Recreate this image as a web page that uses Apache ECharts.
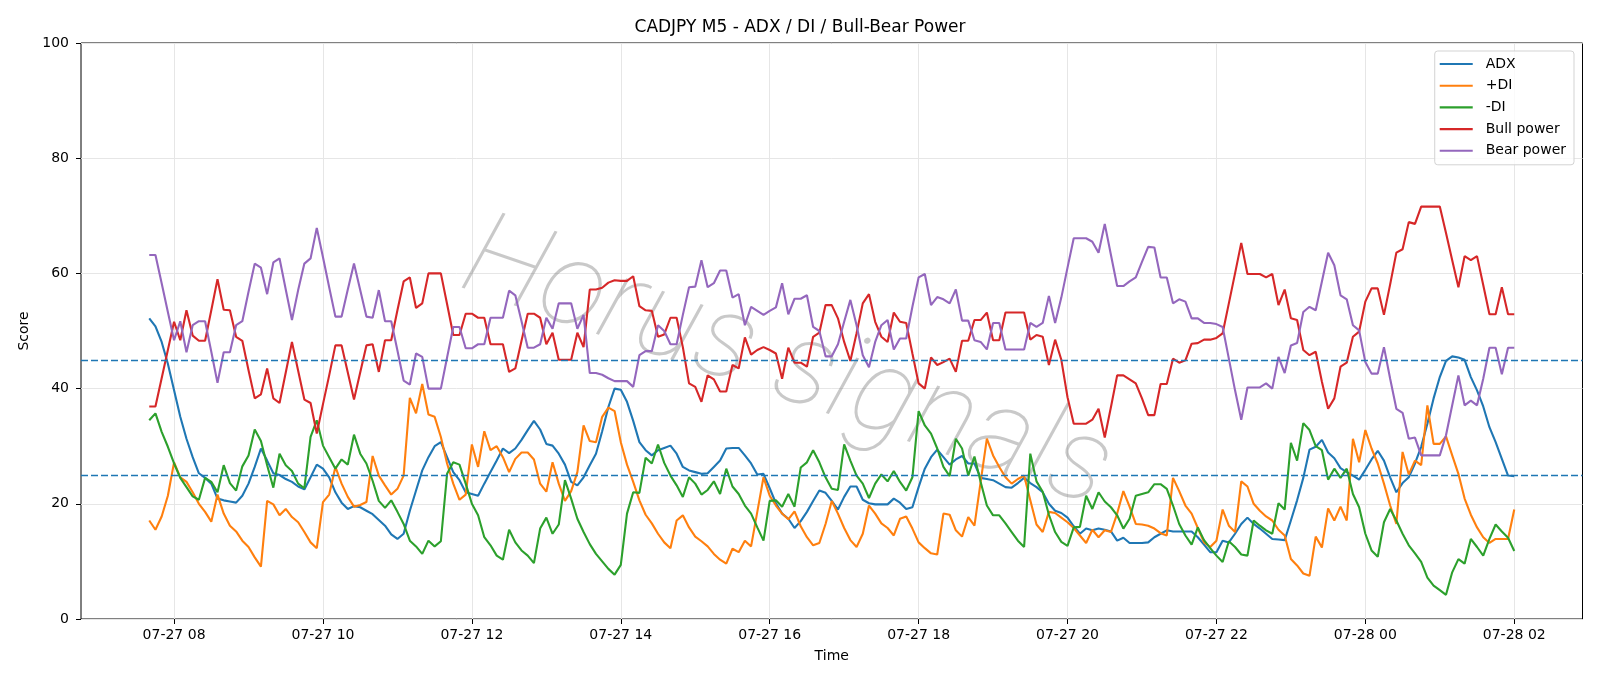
<!DOCTYPE html>
<html>
<head>
<meta charset="utf-8">
<title>CADJPY M5 - ADX / DI / Bull-Bear Power</title>
<script src="https://cdn.jsdelivr.net/npm/echarts@6/dist/echarts.min.js"></script>
<style>
  html, body { margin: 0; padding: 0; background: #fff; }
  #chart { width: 1600px; height: 686px; }
</style>
</head>
<body>
<div id="chart"></div>
<script>
// time grid: M5 bars from 07-27 07:40 to 07-28 02:00, in minutes since 07-27 00:00
const startMinute = 460
const barMinutes = 5

// x ticks
const tickMinutes = [480, 600, 720, 840, 960, 1080, 1200, 1320, 1440, 1560]
const tickLabels = ['07-27 08', '07-27 10', '07-27 12', '07-27 14', '07-27 16',
  '07-27 18', '07-27 20', '07-27 22', '07-28 00', '07-28 02']

const adx = [
  52.2, 50.8, 48.1, 44.3, 39.7, 35.1, 31.3, 28.1, 25.3, 24.5,
  23.5, 20.9, 20.6, 20.4, 20.2, 21.4, 23.5, 26.4, 29.6, 27.5,
  25.3, 25.0, 24.3, 23.8, 23.0, 22.5, 24.6, 26.8, 26.1, 24.6,
  22.0, 20.2, 19.1, 19.6, 19.4, 18.8, 18.2, 17.2, 16.2, 14.7,
  13.9, 14.8, 18.8, 22.3, 25.8, 28.1, 30.0, 30.7, 28.1, 25.5,
  24.1, 22.0, 21.7, 21.4, 23.5, 25.5, 27.5, 29.6, 28.8, 29.6,
  31.1, 32.8, 34.4, 32.9, 30.4, 30.1, 28.7, 26.8, 23.8, 23.2,
  24.6, 26.7, 28.7, 32.6, 36.8, 40.0, 39.8, 37.7, 34.4, 30.7,
  29.3, 28.4, 29.3, 29.7, 30.1, 28.7, 26.4, 25.8, 25.5, 25.2,
  25.3, 26.4, 27.5, 29.6, 29.7, 29.7, 28.4, 27.0, 25.1, 25.2,
  22.7, 20.1, 18.3, 17.4, 15.8, 17.0, 18.6, 20.5, 22.3, 21.9,
  20.5, 19.0, 21.2, 23.0, 23.0, 20.7, 20.1, 19.9, 19.9, 19.9,
  20.9, 20.2, 19.1, 19.4, 22.9, 26.1, 28.1, 29.4, 28.1, 26.8,
  27.7, 28.3, 27.0, 27.0, 24.5, 24.3, 24.1, 23.5, 22.9, 22.8,
  23.6, 24.5, 23.6, 22.9, 22.0, 20.0, 18.8, 18.4, 17.6, 16.1,
  14.8, 15.7, 15.4, 15.7, 15.5, 15.2, 13.6, 14.1, 13.2, 13.2,
  13.2, 13.3, 14.2, 14.8, 15.4, 15.2, 15.2, 15.2, 15.2, 14.2,
  12.9, 11.6, 11.6, 13.6, 13.3, 14.8, 16.5, 17.6, 16.5, 15.7,
  14.8, 13.9, 13.8, 13.7, 17.1, 20.6, 24.5, 29.4, 29.9, 31.1,
  28.9, 27.9, 26.2, 25.5, 24.9, 24.2, 25.9, 27.7, 29.2, 27.5,
  24.6, 22.0, 23.6, 24.6, 27.0, 29.9, 33.9, 38.3, 42.0, 44.8,
  45.6, 45.4, 45.0, 42.0, 39.7, 36.9, 33.3, 30.7, 27.8, 24.9,
  24.8
]

const plusDi = [
  17.1, 15.5, 17.8, 21.4, 27.2, 24.6, 23.8, 22.0, 20.0, 18.6,
  16.9, 21.6, 18.3, 16.2, 15.2, 13.6, 12.5, 10.7, 9.1, 20.5,
  19.9, 18.0, 19.1, 17.7, 16.8, 15.1, 13.3, 12.3, 20.3, 21.6,
  26.4, 23.5, 21.2, 19.5, 19.8, 20.3, 28.3, 24.9, 23.2, 21.6,
  22.6, 24.9, 38.4, 35.7, 40.8, 35.5, 35.1, 31.6, 27.0, 23.5,
  20.7, 21.6, 30.3, 26.4, 32.6, 29.3, 30.0, 28.1, 25.5, 27.8,
  28.9, 28.9, 27.7, 23.5, 22.1, 27.2, 23.5, 20.5, 22.2, 25.5,
  33.6, 30.9, 30.7, 35.1, 36.7, 36.1, 30.7, 26.8, 23.8, 20.6,
  18.1, 16.6, 14.8, 13.3, 12.3, 17.1, 18.0, 15.9, 14.3, 13.5,
  12.6, 11.3, 10.3, 9.6, 12.2, 11.6, 13.6, 12.6, 18.6, 24.6,
  21.4, 19.7, 18.3, 17.3, 18.7, 16.1, 14.2, 12.8, 13.2, 16.5,
  20.5, 18.3, 15.8, 13.7, 12.5, 14.8, 19.7, 18.3, 16.6, 15.8,
  14.5, 17.4, 17.8, 15.7, 13.3, 12.3, 11.4, 11.2, 18.3, 18.1,
  15.4, 14.3, 17.7, 16.2, 23.8, 31.3, 28.4, 26.4, 24.6, 23.5,
  24.3, 24.9, 20.6, 16.4, 15.1, 18.6, 18.4, 17.6, 16.8, 15.8,
  14.5, 13.2, 15.5, 14.2, 15.4, 15.1, 18.3, 22.2, 19.5, 16.5,
  16.4, 16.2, 15.7, 14.9, 14.5, 24.5, 22.2, 19.7, 18.3, 15.8,
  13.3, 12.5, 13.6, 19.0, 16.2, 15.1, 23.9, 23.0, 20.0, 18.8,
  17.8, 17.1, 15.5, 14.5, 10.4, 9.3, 7.9, 7.5, 14.3, 12.4,
  19.2, 17.1, 19.5, 17.1, 31.3, 27.2, 32.8, 29.6, 27.0, 23.5,
  19.7, 16.5, 29.0, 25.1, 27.5, 26.7, 37.1, 30.4, 30.4, 31.7,
  28.4, 25.2, 20.9, 18.1, 15.9, 14.2, 13.2, 13.9, 13.9, 13.9,
  19.0
]

const minusDi = [
  34.5, 35.7, 32.5, 29.9, 27.0, 24.5, 22.9, 21.3, 20.7, 24.5,
  23.8, 22.0, 26.7, 23.6, 22.3, 26.5, 28.4, 32.9, 30.9, 26.7,
  22.8, 28.7, 26.7, 25.7, 23.5, 22.7, 31.6, 34.5, 30.1, 28.1,
  26.1, 27.7, 26.8, 32.0, 28.7, 27.0, 24.0, 20.5, 19.3, 20.6,
  18.6, 16.5, 13.6, 12.6, 11.3, 13.6, 12.6, 13.5, 25.2, 27.2,
  26.8, 23.5, 20.0, 18.0, 14.2, 12.8, 11.0, 10.3, 15.5, 13.3,
  11.9, 11.0, 9.7, 15.7, 17.6, 14.8, 16.4, 24.1, 20.9, 17.4,
  15.1, 13.0, 11.3, 10.0, 8.7, 7.7, 9.4, 18.3, 22.0, 21.9,
  28.0, 27.0, 30.3, 27.1, 24.9, 23.2, 21.2, 24.6, 23.5, 21.6,
  22.4, 23.9, 21.7, 26.1, 23.0, 21.7, 19.7, 18.3, 15.9, 13.6,
  20.5, 20.6, 19.5, 21.7, 19.5, 26.3, 27.2, 29.3, 27.2, 24.6,
  22.6, 22.4, 30.3, 27.5, 24.9, 23.5, 21.0, 23.5, 25.1, 23.9,
  25.7, 23.8, 22.3, 24.6, 36.1, 33.6, 32.2, 29.6, 26.4, 24.8,
  31.3, 29.6, 24.9, 28.2, 23.8, 19.7, 18.0, 18.0, 16.6, 15.1,
  13.6, 12.5, 28.7, 23.9, 22.1, 18.1, 15.1, 13.4, 12.7, 15.9,
  16.0, 21.4, 19.1, 22.0, 20.4, 19.4, 18.0, 15.7, 17.4, 21.4,
  21.7, 22.0, 23.4, 23.4, 22.6, 19.7, 16.5, 14.5, 12.9, 15.9,
  13.7, 12.3, 11.0, 9.9, 13.5, 12.5, 11.2, 11.0, 17.1, 16.2,
  15.4, 14.8, 20.1, 19.0, 30.6, 27.5, 34.0, 32.8, 30.0, 29.3,
  24.2, 26.1, 24.5, 26.1, 21.7, 19.4, 14.8, 11.9, 10.8, 16.8,
  19.1, 17.1, 14.8, 12.8, 11.4, 9.9, 7.2, 5.8, 5.0, 4.2,
  8.1, 10.4, 9.6, 13.9, 12.5, 11.0, 13.9, 16.4, 15.2, 14.1,
  11.8
]

const bullPower = [
  36.9, 36.9, 41.8, 46.7, 51.6, 48.4, 53.6, 49.2, 48.3, 48.3,
  53.6, 59.0, 53.7, 53.6, 49.0, 48.3, 43.2, 38.3, 39.0, 43.5,
  38.3, 37.5, 42.8, 48.1, 43.1, 38.1, 37.5, 32.2, 37.3, 42.3,
  47.5, 47.5, 42.8, 38.1, 42.8, 47.5, 47.7, 42.9, 48.4, 48.4,
  53.6, 58.6, 59.3, 54.0, 54.8, 60.0, 60.0, 60.0, 54.7, 49.3,
  49.3, 53.0, 53.0, 52.3, 52.3, 47.7, 47.7, 47.7, 42.9, 43.5,
  48.3, 53.0, 53.0, 52.3, 47.7, 49.7, 45.0, 45.0, 45.0, 49.7,
  47.2, 57.2, 57.2, 57.5, 58.4, 58.8, 58.7, 58.7, 59.5, 54.3,
  53.6, 53.5, 49.0, 49.4, 52.3, 52.3, 47.2, 40.9, 40.3, 37.7,
  42.3, 41.6, 39.5, 39.5, 44.1, 43.5, 48.9, 45.9, 46.7, 47.2,
  46.7, 46.1, 41.7, 47.1, 44.5, 44.5, 43.8, 49.0, 49.7, 54.5,
  54.5, 52.2, 48.1, 44.8, 49.6, 54.8, 56.4, 51.6, 49.0, 48.1,
  53.2, 51.6, 51.4, 46.1, 40.9, 40.0, 45.4, 44.1, 44.6, 45.2,
  42.9, 48.3, 48.3, 51.9, 51.9, 53.2, 48.4, 48.4, 53.2, 53.2,
  53.2, 53.2, 48.5, 49.3, 49.0, 44.1, 48.5, 45.0, 38.5, 33.9,
  33.9, 33.9, 34.6, 36.5, 31.5, 36.8, 42.3, 42.3, 41.6, 40.9,
  38.3, 35.4, 35.4, 40.8, 40.8, 45.2, 44.5, 44.9, 47.8, 47.9,
  48.5, 48.5, 48.8, 49.6, 54.8, 60.0, 65.3, 59.9, 59.9, 59.9,
  59.3, 59.9, 54.5, 57.2, 52.2, 51.9, 46.7, 45.8, 46.4, 41.2,
  36.5, 38.3, 43.8, 44.5, 49.0, 49.9, 55.1, 57.4, 57.4, 52.8,
  58.1, 63.6, 64.2, 68.9, 68.6, 71.6, 71.6, 71.6, 71.6, 67.0,
  62.3, 57.6, 63.0, 62.3, 63.0, 58.0, 52.9, 52.9, 57.6, 52.9,
  52.9
]

const bearPower = [
  63.2, 63.2, 58.3, 53.3, 48.4, 51.7, 46.3, 51.0, 51.7, 51.7,
  46.4, 41.0, 46.3, 46.3, 51.0, 51.7, 56.8, 61.7, 61.0, 56.4,
  61.9, 62.6, 57.2, 51.9, 57.1, 61.7, 62.6, 67.9, 62.8, 57.6,
  52.5, 52.5, 57.2, 61.7, 57.1, 52.5, 52.3, 57.1, 51.7, 51.7,
  46.6, 41.4, 40.7, 46.1, 45.5, 40.0, 40.0, 40.0, 45.4, 50.7,
  50.7, 47.0, 47.0, 47.7, 47.7, 52.3, 52.3, 52.3, 57.0, 56.2,
  51.7, 47.1, 47.1, 47.7, 52.3, 50.4, 54.8, 54.8, 54.8, 50.4,
  52.8, 42.7, 42.7, 42.4, 41.8, 41.3, 41.3, 41.3, 40.3, 45.8,
  46.5, 46.5, 51.0, 50.0, 47.7, 47.7, 52.8, 57.6, 57.7, 62.3,
  57.6, 58.3, 60.5, 60.5, 55.8, 56.4, 51.0, 54.2, 53.5, 52.8,
  53.5, 54.1, 58.3, 52.9, 55.6, 55.6, 56.2, 50.7, 50.0, 45.6,
  45.6, 47.7, 51.6, 55.4, 51.0, 45.8, 43.7, 48.1, 51.0, 51.9,
  46.8, 48.7, 48.7, 54.2, 59.3, 59.9, 54.5, 55.9, 55.5, 54.8,
  57.2, 51.8, 51.8, 48.4, 48.1, 46.8, 51.4, 51.4, 46.8, 46.8,
  46.8, 46.8, 51.4, 50.7, 51.4, 56.1, 51.4, 55.8, 61.0, 66.1,
  66.1, 66.1, 65.5, 63.6, 68.6, 63.2, 57.8, 57.8, 58.6, 59.3,
  62.0, 64.6, 64.5, 59.3, 59.3, 54.8, 55.5, 55.1, 52.2, 52.2,
  51.4, 51.4, 51.2, 50.7, 45.2, 39.7, 34.6, 40.2, 40.2, 40.2,
  40.9, 40.0, 45.5, 42.7, 47.5, 47.9, 53.3, 54.2, 53.6, 58.6,
  63.6, 61.4, 56.2, 55.5, 51.0, 50.1, 44.6, 42.6, 42.6, 47.2,
  41.7, 36.5, 35.8, 31.3, 31.5, 28.4, 28.4, 28.4, 28.4, 31.9,
  37.1, 42.3, 37.1, 37.9, 37.1, 41.7, 47.1, 47.1, 42.5, 47.1,
  47.1
]

// reference levels
const levels = [25, 45]

const FONT = 'DejaVu Sans'
const chartInstance = echarts.init(document.getElementById('chart'))

// pair each value with its bar time
function toPoints(values) {
  return values.map((v, i) => [startMinute + i * barMinutes, v])
}

function lineSeries(name, color, values) {
  return {
    name: name,
    type: 'line',
    data: toPoints(values),
    symbol: 'none',
    showSymbol: false,
    lineStyle: { color: color, width: 2.1 },
    itemStyle: { color: color },
    emphasis: { disabled: true }
  }
}

const option = {
  animation: false,
  backgroundColor: '#fff',
  textStyle: { fontFamily: FONT },
  title: {
    text: 'CADJPY M5 - ADX / DI / Bull-Bear Power',
    left: 'center',
    top: 14,
    textStyle: { fontFamily: FONT, fontSize: 17, fontWeight: 'normal', color: '#000' }
  },
  grid: {
    left: 81,
    right: 17.5,
    top: 43,
    bottom: 67,
    show: true,
    borderColor: '#000',
    borderWidth: 1
  },
  legend: {
    orient: 'vertical',
    right: 26,
    top: 51,
    icon: 'path://M0,0L33,0L33,2.1L0,2.1Z',
    itemWidth: 33,
    itemHeight: 14,
    itemGap: 7.7,
    padding: [6, 8, 7, 5],
    borderColor: '#d3d3d3',
    borderWidth: 1,
    borderRadius: 3,
    backgroundColor: 'rgba(255,255,255,0.8)',
    textStyle: { fontFamily: FONT, fontSize: 14, color: '#000', padding: [0, 0, 0, 8] },
    data: ['ADX', '+DI', '-DI', 'Bull power', 'Bear power']
  },
  xAxis: {
    type: 'value',
    min: 405,
    max: 1615,
    name: 'Time',
    nameLocation: 'middle',
    nameGap: 30,
    nameTextStyle: { fontFamily: FONT, fontSize: 14, color: '#000' },
    axisLine: { show: false },
    axisTick: {
      show: true,
      customValues: tickMinutes,
      length: 5,
      lineStyle: { color: '#000', width: 1 }
    },
    axisLabel: {
      customValues: tickMinutes,
      margin: 9,
      fontFamily: FONT,
      fontSize: 14,
      color: '#000',
      formatter: (v) => {
        const k = tickMinutes.indexOf(v)
        return k >= 0 ? tickLabels[k] : ''
      }
    },
    splitLine: { show: true, lineStyle: { color: '#e6e6e6', width: 1 } }
  },
  yAxis: {
    type: 'value',
    min: 0,
    max: 100,
    interval: 20,
    name: 'Score',
    nameLocation: 'middle',
    nameGap: 48,
    nameTextStyle: { fontFamily: FONT, fontSize: 14, color: '#000' },
    axisLine: { show: false },
    axisTick: { show: true, length: 5, lineStyle: { color: '#000', width: 1 } },
    axisLabel: { margin: 12, fontFamily: FONT, fontSize: 14, color: '#000' },
    splitLine: { show: true, lineStyle: { color: '#e6e6e6', width: 1 } }
  },
  graphic: [
    {
      // watermark
      type: 'text',
      x: 786,
      y: 368,
      rotation: -19 * Math.PI / 180,
      z: 1,
      silent: true,
      style: {
        text: 'Horus signals',
        fontFamily: 'Roboto',
        fontSize: 118,
        fontStyle: 'italic',
        fontWeight: 100,
        fill: 'rgba(120,120,120,0.4)',
        align: 'center',
        verticalAlign: 'middle'
      }
    }
  ],
  series: [
    lineSeries('ADX', '#1f77b4', adx),
    lineSeries('+DI', '#ff7f0e', plusDi),
    lineSeries('-DI', '#2ca02c', minusDi),
    lineSeries('Bull power', '#d62728', bullPower),
    lineSeries('Bear power', '#9467bd', bearPower),
    {
      name: 'levels',
      type: 'line',
      data: [],
      z: 5,
      markLine: {
        silent: true,
        symbol: 'none',
        label: { show: false },
        lineStyle: { color: '#1f77b4', type: [7, 3], width: 1.4 },
        data: levels.map((v) => ({ yAxis: v }))
      }
    }
  ]
}

chartInstance.setOption(option)
</script>
</body>
</html>
